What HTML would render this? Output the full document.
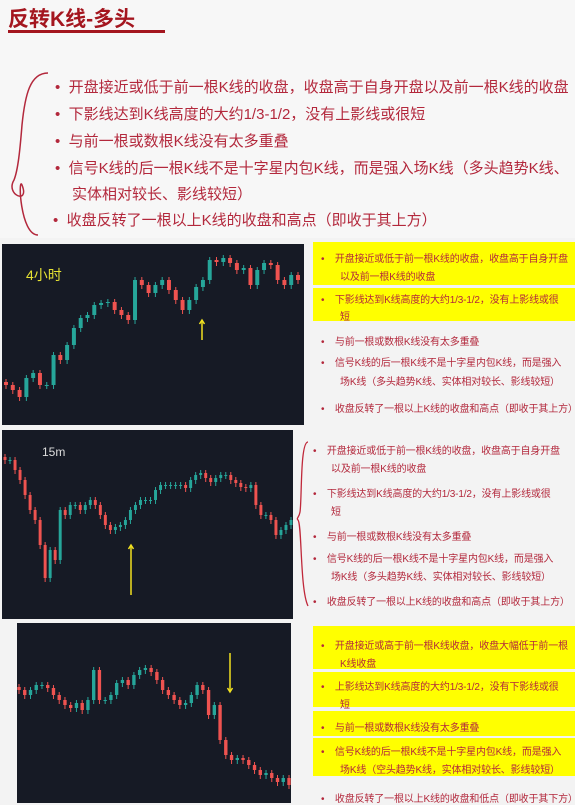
<!DOCTYPE html>
<html><head><meta charset="utf-8">
<style>
body{margin:0;width:575px;height:803px;overflow:hidden;background:#f3f3f3;font-family:"Liberation Sans","Noto Sans CJK SC",sans-serif;position:relative}
.abs{position:absolute}
.t{position:absolute;color:#b3283c;white-space:nowrap}
.big{font-size:15px;letter-spacing:0px}
.sm{font-size:10px;letter-spacing:-0.15px}
.yb{position:absolute;background:#ffff00}
.panel{position:absolute;background:#161a25}
</style></head><body>
<div class="abs" style="left:0;top:0;width:575px;height:238px;background:#f7f7f7"></div>
<div class="abs" style="left:8px;top:3px;font-size:21px;font-weight:bold;color:#a4161f">反转K线-多头</div>
<div class="abs" style="left:8px;top:30px;width:157px;height:3px;background:#a4161f"></div>
<svg class="abs" style="left:0;top:65px" width="60" height="175"><path d="M48 8 C30 8 25 30 22 60 C20 85 18 105 14 115 C5 130 30 140 22 120 C18 110 20 170 38 170" stroke="#b3283c" stroke-width="1.5" fill="none"/></svg>
<div class="t big" style="left:55px;top:76px">•&nbsp;&nbsp;开盘接近或低于前一根K线的收盘，收盘高于自身开盘以及前一根K线的收盘</div>
<div class="t big" style="left:55px;top:103px">•&nbsp;&nbsp;下影线达到K线高度的大约1/3-1/2，没有上影线或很短</div>
<div class="t big" style="left:55px;top:130px">•&nbsp;&nbsp;与前一根或数根K线没有太多重叠</div>
<div class="t big" style="left:55px;top:157px">•&nbsp;&nbsp;信号K线的后一根K线不是十字星内包K线，而是强入场K线（多头趋势K线、</div>
<div class="t big" style="left:72px;top:183px">实体相对较长、影线较短）</div>
<div class="t big" style="left:53px;top:209px">•&nbsp;&nbsp;收盘反转了一根以上K线的收盘和高点（即收于其上方）</div>

<div class="panel" style="left:2px;top:244px;width:302px;height:181px"></div>
<div class="panel" style="left:2px;top:430px;width:291px;height:189px"></div>
<div class="panel" style="left:17px;top:623px;width:274px;height:180px"></div>
<svg class="abs" id="charts" style="left:0;top:0" width="575" height="803"></svg>
<div class="abs" style="left:26px;top:265px;font-size:14px;color:#e6e233">4小时</div>
<div class="abs" style="left:42px;top:445px;font-size:12px;color:#ddd">15m</div>

<div class="yb" style="left:313px;top:242px;width:262px;height:43px"></div>
<div class="yb" style="left:313px;top:288px;width:262px;height:33px"></div>
<div class="t sm" style="left:321px;top:250px">•&nbsp;&nbsp;&nbsp;&nbsp;开盘接近或低于前一根K线的收盘，收盘高于自身开盘</div>
<div class="t sm" style="left:340px;top:268px">以及前一根K线的收盘</div>
<div class="t sm" style="left:321px;top:291px">•&nbsp;&nbsp;&nbsp;&nbsp;下影线达到K线高度的大约1/3-1/2，没有上影线或很</div>
<div class="t sm" style="left:340px;top:308px">短</div>
<div class="t sm" style="left:321px;top:333px">•&nbsp;&nbsp;&nbsp;&nbsp;与前一根或数根K线没有太多重叠</div>
<div class="t sm" style="left:321px;top:354px">•&nbsp;&nbsp;&nbsp;&nbsp;信号K线的后一根K线不是十字星内包K线，而是强入</div>
<div class="t sm" style="left:340px;top:373px">场K线（多头趋势K线、实体相对较长、影线较短）</div>
<div class="t sm" style="left:321px;top:400px">•&nbsp;&nbsp;&nbsp;&nbsp;收盘反转了一根以上K线的收盘和高点（即收于其上方）</div>

<svg class="abs" style="left:296px;top:440px" width="16" height="170"><path d="M12 2 C4 2 6 60 4 72 C3 78 0 78 2 80 C6 84 4 150 12 166" stroke="#c0283a" stroke-width="1.3" fill="none"/></svg>
<div class="t sm" style="left:313px;top:442px">•&nbsp;&nbsp;&nbsp;&nbsp;开盘接近或低于前一根K线的收盘，收盘高于自身开盘</div>
<div class="t sm" style="left:331px;top:460px">以及前一根K线的收盘</div>
<div class="t sm" style="left:313px;top:485px">•&nbsp;&nbsp;&nbsp;&nbsp;下影线达到K线高度的大约1/3-1/2，没有上影线或很</div>
<div class="t sm" style="left:331px;top:503px">短</div>
<div class="t sm" style="left:313px;top:528px">•&nbsp;&nbsp;&nbsp;&nbsp;与前一根或数根K线没有太多重叠</div>
<div class="t sm" style="left:313px;top:550px">•&nbsp;&nbsp;&nbsp;&nbsp;信号K线的后一根K线不是十字星内包K线，而是强入</div>
<div class="t sm" style="left:331px;top:568px">场K线（多头趋势K线、实体相对较长、影线较短）</div>
<div class="t sm" style="left:313px;top:593px">•&nbsp;&nbsp;&nbsp;&nbsp;收盘反转了一根以上K线的收盘和高点（即收于其上方）</div>

<div class="yb" style="left:313px;top:626px;width:262px;height:43px"></div>
<div class="yb" style="left:313px;top:672px;width:262px;height:35px"></div>
<div class="yb" style="left:313px;top:711px;width:262px;height:25px"></div>
<div class="yb" style="left:313px;top:738px;width:262px;height:38px"></div>
<div class="t sm" style="left:321px;top:637px">•&nbsp;&nbsp;&nbsp;&nbsp;开盘接近或高于前一根K线收盘，收盘大幅低于前一根</div>
<div class="t sm" style="left:340px;top:655px">K线收盘</div>
<div class="t sm" style="left:321px;top:678px">•&nbsp;&nbsp;&nbsp;&nbsp;上影线达到K线高度的大约1/3-1/2，没有下影线或很</div>
<div class="t sm" style="left:340px;top:696px">短</div>
<div class="t sm" style="left:321px;top:719px">•&nbsp;&nbsp;&nbsp;&nbsp;与前一根或数根K线没有太多重叠</div>
<div class="t sm" style="left:321px;top:743px">•&nbsp;&nbsp;&nbsp;&nbsp;信号K线的后一根K线不是十字星内包K线，而是强入</div>
<div class="t sm" style="left:340px;top:761px">场K线（空头趋势K线，实体相对较长、影线较短）</div>
<div class="t sm" style="left:321px;top:790px">•&nbsp;&nbsp;&nbsp;&nbsp;收盘反转了一根以上K线的收盘和低点（即收于其下方）</div>

<script>
const closes4h=[39,34,27,46,51,39,39,69,64,79,96,106,109,119,121,122,114,109,104,144,139,131,139,144,134,124,114,124,137,144,164,162,166,161,154,156,139,154,161,159,144,139,149,144];
const closes15m=[158,158,148,138,123,108,98,73,40,68,58,108,103,113,113,108,113,118,113,103,93,88,91,93,98,108,113,118,118,118,128,133,133,133,133,133,130,138,143,145,140,136,140,143,143,138,135,131,130,133,113,103,103,98,83,88,93,98];
const closesBear=[113,108,113,118,118,115,108,103,98,95,100,93,103,133,103,103,108,120,123,118,128,133,135,131,123,113,108,103,98,100,108,118,113,88,98,63,48,43,45,43,38,33,28,30,25,21,25,18];
const charts=[
 {data:closes4h,x0:6,x1:298,top:244,bot:424,d0:0,d1:180,name:'4h'},
 {data:closes15m,x0:5,x1:291,top:430,bot:618,d0:0,d1:188,name:'15m'},
 {data:closesBear,x0:19,x1:289,top:623,bot:803,d0:0,d1:180,name:'bear'}
];
const svg=document.getElementById('charts');
const NS='http://www.w3.org/2000/svg';
function mk(t,a){const e=document.createElementNS(NS,t);for(const k in a)e.setAttribute(k,a[k]);svg.appendChild(e);return e;}
charts.forEach(c=>{
 const n=c.data.length;
 const xs=i=>c.x0+(c.x1-c.x0)*i/(n-1);
 const ys=v=>c.bot-(v-c.d0)/(c.d1-c.d0)*(c.bot-c.top);
 const w=Math.max(2,(c.x1-c.x0)/n*0.6);
 for(let i=0;i<n;i++){
  const o=i?c.data[i-1]:c.data[0]+3,cl=c.data[i];
  const up=cl>=o,col=up?'#26a69a':'#ef5350';
  const hi=Math.max(o,cl)+3,lo=Math.min(o,cl)-4;
  const wk=mk('line',{x1:xs(i),x2:xs(i),y1:ys(hi),y2:ys(lo),stroke:col,'stroke-width':1});
  
  
  const b=mk('rect',{x:xs(i)-w/2,y:ys(Math.max(o,cl)),width:w,height:Math.max(1,Math.abs(ys(o)-ys(cl))),fill:col});
  
  
 }
});
function arrow(x,y1,y2,name){
 const l=mk('line',{x1:x,x2:x,y1:y1,y2:y2,stroke:'#f0e020','stroke-width':1.5});
 
 
 const d=y2>y1?4:-4;
 const p=mk('path',{d:`M${x-2.5} ${y1+d} L${x} ${y1} L${x+2.5} ${y1+d}`,stroke:'#f0e020','stroke-width':1.5,fill:'none'});
 
 
}
arrow(202,320,340,'signal-arrow-4h');
arrow(131,545,595,'signal-arrow-15m');
arrow(230,692,653,'signal-arrow-bear');
</script>
</body></html>
